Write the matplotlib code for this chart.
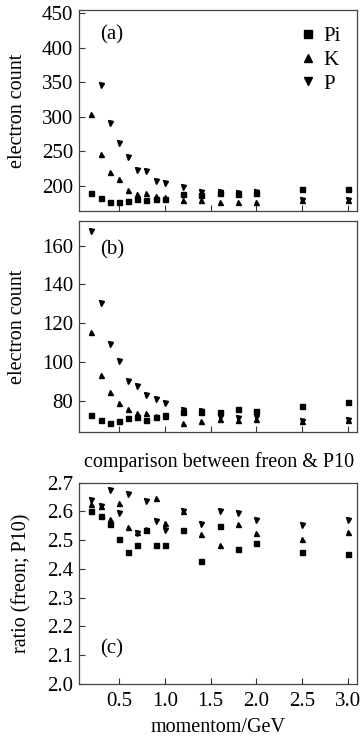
import matplotlib.pyplot as plt
import numpy as np

plt.rcParams['font.family'] = ['Liberation Serif', 'DejaVu Serif']
plt.rcParams['font.size'] = 15

# momentum points (GeV)
p = [0.2, 0.3, 0.4, 0.5, 0.6, 0.7, 0.8, 0.9, 1.0, 1.2, 1.4, 1.6, 1.8, 2.0, 2.5, 3.0]

# (a) freon
pi_a = [189, 182, 176.5, 176.5, 177, 180, 179.5, 181, 181, 188, 186, 189, 188, 189, 195.5, 195.5]
k_a = [303.5, 246.5, 219.5, 209.5, 193, 188, 189, 184.5, 184, 179, 179, 175.5, 176, 176, 178.5, 179]
p_a = [np.nan, 345.5, 291, 261.5, 242, 222, 221, 207, 203.5, 197.5, 190, 190, 189.5, 190, 178.5, 179]

# (b) P10
pi_b = [72.6, 70.0, 68.7, 69.5, 70.9, 71.8, 70.0, 71.7, 72.6, 74.0, 74.3, 74.3, 75.7, 74.8, 77.4, 79.2]
k_b = [115.3, 93.4, 84.7, 79.0, 75.7, 73.5, 73.8, 72.2, 72.0, 68.3, 69.5, 70.5, 70.0, 70.5, 69.7, 70.0]
p_b = [167.6, 130.4, 109.4, 100.6, 90.3, 87.7, 83.1, 80.7, 79.0, 75.3, 74.8, 71.5, 71.0, 71.5, 69.7, 70.0]

# (c) ratio freon / P10
pi_c = [2.600, 2.583, 2.556, 2.505, 2.460, 2.485, 2.536, 2.483, 2.483, 2.534, 2.428, 2.551, 2.468, 2.489, 2.458, 2.453]
k_c = [2.625, 2.620, 2.573, 2.628, 2.546, 2.530, 2.540, 2.648, 2.559, 2.600, 2.522, 2.483, 2.556, 2.525, 2.506, 2.529]
p_c = [2.640, 2.620, 2.675, 2.594, 2.660, 2.525, 2.638, 2.566, 2.534, 2.603, 2.557, 2.603, 2.594, 2.569, 2.553, 2.569]

fig = plt.figure(figsize=(3.6, 7.49), dpi=100)
L, W = 0.219, 0.773
ax_a = fig.add_axes([L, 0.7183, W, 0.2683])
ax_b = fig.add_axes([L, 0.4232, W, 0.2817])
ax_c = fig.add_axes([L, 0.0868, W, 0.2687])

ms = 3.6
for ax, (pi, k, pp) in zip([ax_a, ax_b, ax_c],
                           [(pi_a, k_a, p_a), (pi_b, k_b, p_b), (pi_c, k_c, p_c)]):
    ax.plot(p, pi, 's', color='black', ms=ms, label='Pi', clip_on=False)
    ax.plot(p, k, '^', color='black', ms=ms, label='K', clip_on=False)
    ax.plot(p, pp, 'v', color='black', ms=ms, label='P', clip_on=False)
    ax.set_xlim(0.062, 3.1)
    ax.set_xticks([0.5, 1.0, 1.5, 2.0, 2.5, 3.0])
    ax.tick_params(direction='in', length=4, width=0.8, color='#333333', pad=4)
    for s in ax.spines.values():
        s.set_color('#444444')
        s.set_linewidth(0.9)

# (a)
ax_a.set_ylim(163, 455)
ax_a.set_yticks([200, 250, 300, 350, 400, 450])
ax_a.set_xticklabels([])
ax_a.set_ylabel('electron count', fontsize=14.5)
ax_a.yaxis.set_label_coords(-0.185, 0.5)
ax_a.text(0.075, 0.855, '(a)', transform=ax_a.transAxes)
ax_a.legend(loc='upper right', frameon=False, markerscale=1.5, handlelength=0.6,
            handletextpad=0.4, labelspacing=0.2, borderaxespad=0.4)

# (b)
ax_b.set_ylim(63.8, 172.7)
ax_b.set_yticks([80, 100, 120, 140, 160])
ax_b.set_xticklabels([])
ax_b.set_ylabel('electron count', fontsize=14.5)
ax_b.yaxis.set_label_coords(-0.185, 0.5)
ax_b.text(0.075, 0.84, '(b)', transform=ax_b.transAxes)
fig.text(0.608, 0.383, 'comparison between freon & P10', ha='center', va='center',
         fontsize=14.5)

# (c)
ax_c.set_ylim(2.0, 2.7)
ax_c.set_yticks(np.arange(2.0, 2.71, 0.1))
ax_c.set_yticklabels(['2.0', '2.1', '2.2', '2.3', '2.4', '2.5', '2.6', '2.7'])
ax_c.set_xticklabels(['0.5', '1.0', '1.5', '2.0', '2.5', '3.0'])
ax_c.tick_params(axis='x', pad=6)
ax_c.set_ylabel('ratio (freon; P10)', fontsize=14.5)
ax_c.yaxis.set_label_coords(-0.17, 0.5)
ax_c.set_xlabel('momentom/GeV', fontsize=14.5, labelpad=5)
ax_c.text(0.075, 0.15, '(c)', transform=ax_c.transAxes)

fig.savefig('out.png', dpi=100)
